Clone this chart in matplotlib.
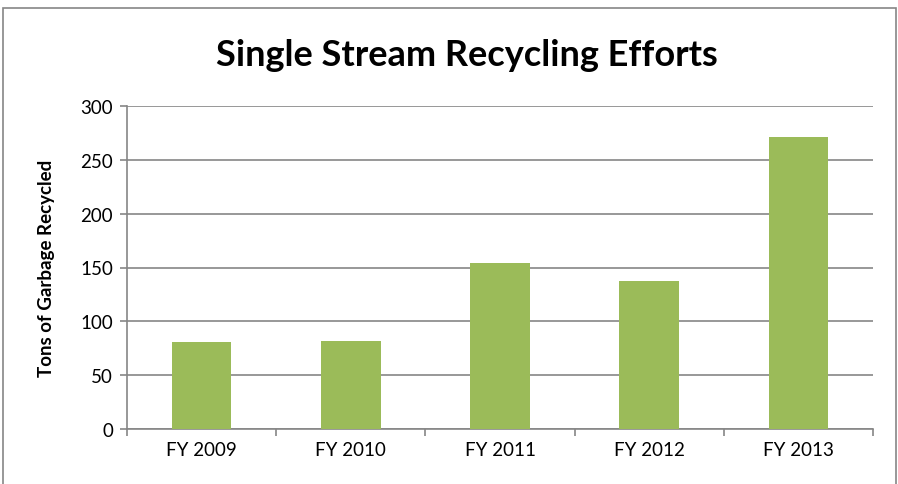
import matplotlib.pyplot as plt
from matplotlib.patches import Rectangle

years = ["FY 2009", "FY 2010", "FY 2011", "FY 2012", "FY 2013"]
tons = [81, 82, 154, 137, 271]
y_ticks = [0, 50, 100, 150, 200, 250, 300]

grey = "#868686"
plt.rcParams["font.family"] = ["Lato", "DejaVu Sans"]

fig = plt.figure(figsize=(8.98, 4.85), dpi=100)
ax = fig.add_axes([127 / 898, 1 - 430 / 485, 746 / 898, 323 / 485])

# outer chart border
fig.patches.append(Rectangle((3 / 898, -0.02), 893 / 898, 1.02 - 9 / 485,
                             transform=fig.transFigure, fill=False,
                             edgecolor=grey, linewidth=1.2))

x = list(range(len(years)))
ax.bar(x, tons, width=0.4, color="#9BBB59", zorder=3)

ax.set_xlim(-0.5, 4.5)
ax.set_ylim(0, 300)
ax.set_yticks(y_ticks)
ax.set_xticks(x)
ax.set_xticklabels(years, fontsize=13.5)
ax.set_xticks([i - 0.5 for i in range(len(years) + 1)], minor=True)
ax.tick_params(axis="x", which="major", length=0, pad=9)
ax.tick_params(axis="x", which="minor", length=5, color=grey, width=1.2)
ax.tick_params(axis="y", length=5, color=grey, width=1.2, labelsize=13.5, pad=5)

ax.grid(axis="y", color=grey, linewidth=1.2, zorder=0)
ax.set_axisbelow(True)
for s in ["top", "right"]:
    ax.spines[s].set_visible(False)
for s in ["left", "bottom"]:
    ax.spines[s].set_color(grey)
    ax.spines[s].set_linewidth(1.2)

ax.set_ylabel("Tons of Garbage Recycled", fontsize=13.5, fontweight="bold")
ax.yaxis.set_label_coords(-72 / 746, 0.5)
fig.text(467 / 898, 1 - 55 / 485, "Single Stream Recycling Efforts",
         ha="center", va="center", fontsize=26, fontweight="bold")

fig.savefig("out.png", dpi=100)
